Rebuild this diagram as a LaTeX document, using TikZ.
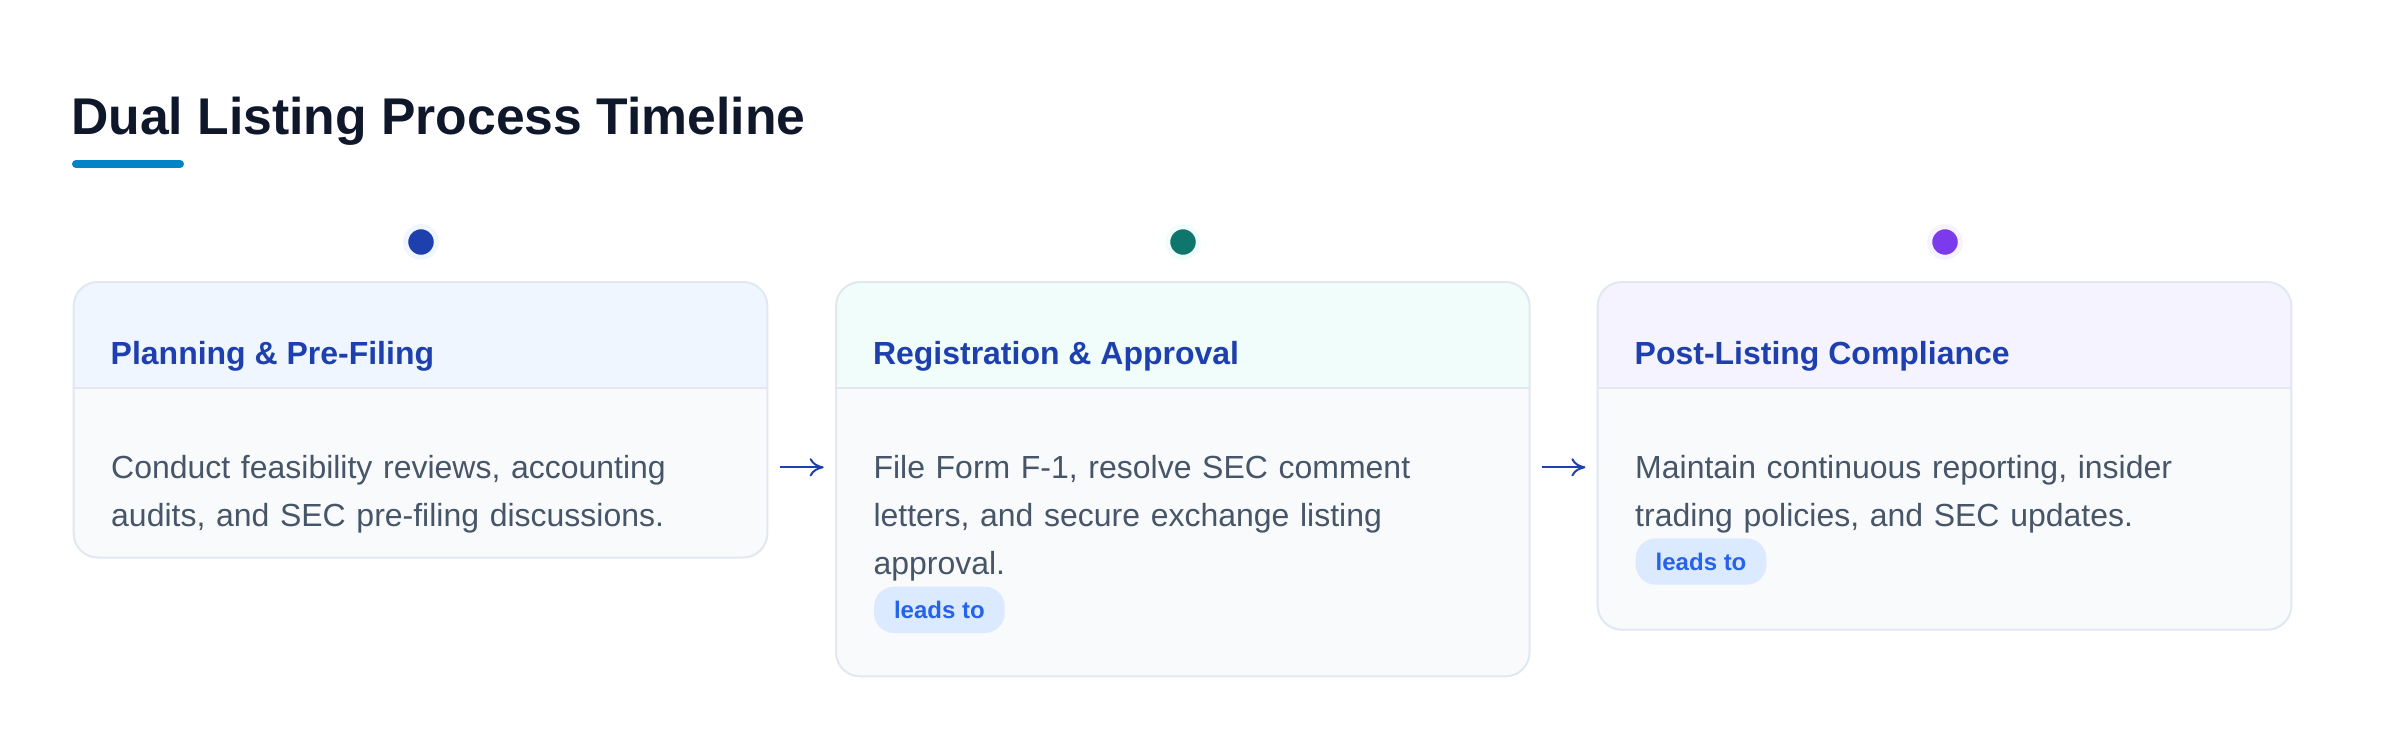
\documentclass[tikz,border=0pt]{standalone}
\usepackage{fontspec}
\setmainfont{Liberation Sans}
\usetikzlibrary{arrows.meta}
\definecolor{titleink}{HTML}{0F172A}
\definecolor{accent}{HTML}{0284C7}
\definecolor{cardedge}{HTML}{E2E8F0}
\definecolor{bodyfill}{HTML}{F8FAFC}
\definecolor{headblue}{HTML}{1E40AF}
\definecolor{slatetext}{HTML}{475569}
\definecolor{fillblue}{HTML}{EFF6FF}
\definecolor{fillteal}{HTML}{F0FDFA}
\definecolor{fillviolet}{HTML}{F5F3FF}
\definecolor{dotblue}{HTML}{1E40AF}
\definecolor{dotteal}{HTML}{0F766E}
\definecolor{dotviolet}{HTML}{7C3AED}
\definecolor{tagfill}{HTML}{DBEAFE}
\definecolor{tagblue}{HTML}{2563EB}
\tikzset{>={To[length=4pt,width=5.2pt]}, inner sep=0pt}
\tikzset{card/.style={draw=cardedge, line width=0.2mm, fill=bodyfill, rounded corners=2.4mm, minimum width=69.36mm, outer sep=0pt, anchor=north west,
  path picture={\fill[#1, sharp corners] (path picture bounding box.north west) rectangle ([yshift=-10.63mm]path picture bounding box.north east);
    \draw[cardedge, line width=0.2mm, sharp corners] ([yshift=-10.63mm]path picture bounding box.north west) -- ([yshift=-10.63mm]path picture bounding box.north east);}}}
\tikzstyle{headtext} = [anchor=base west, text=headblue, font=\fontsize{9.1}{11}\selectfont\bfseries]
\tikzstyle{bodytext} = [anchor=base west, text=slatetext, text width=62mm, align=left, font=\fontsize{9.1}{13.66}\selectfont]
\tikzstyle{tag} = [anchor=north west, fill=tagfill, text=tagblue, rounded corners=2mm, minimum width=13.07mm, minimum height=4.63mm, font=\fontsize{6.83}{8}\selectfont\bfseries]
\tikzstyle{dot} = [circle, minimum size=3.06mm, line width=0.5mm]
\tikzstyle{flow} = [->, draw=headblue, line width=0.2mm, shorten <=1.27mm, shorten >=1.23mm]

\begin{document}
\begin{tikzpicture}[x=0.1mm, y=-0.1mm]
	\fill[white] (0,0) rectangle (2400,752);
	\useasboundingbox (0,0) rectangle (2400,752);

	\node [anchor=base west, text=titleink, font=\fontsize{14.7}{17}\selectfont\bfseries] (title) at (70.5,134) {Dual Listing Process Timeline};
	\draw [accent, line width=0.8mm, line cap=round] (76,164) -- (180,164);

	\node [dot, fill=dotblue, draw=fillblue] (dot1) at (421,242) {};
	\node [dot, fill=dotteal, draw=fillteal] (dot2) at (1183,242) {};
	\node [dot, fill=dotviolet, draw=fillviolet] (dot3) at (1945,242) {};

	\node [card=fillblue, minimum height=27.55mm] (card1) at (73.7,282) {};
	\node [card=fillteal, minimum height=39.43mm] (card2) at (836,282) {};
	\node [card=fillviolet, minimum height=34.77mm] (card3) at (1597.7,282) {};

	\node [headtext] (head1) at (110,364.3) {Planning \& Pre-Filing};
	\node [headtext] (head2) at (872.3,364.3) {Registration \& Approval};
	\node [headtext] (head3) at (1634,364.3) {Post-Listing Compliance};

	\node [bodytext] (body1) at (110.5,478.7) {Conduct feasibility reviews, accounting\\audits, and SEC pre-filing discussions.};
	\node [bodytext] (body2) at (872.8,478.7) {File Form F-1, resolve SEC comment\\letters, and secure exchange listing\\approval.};
	\node [bodytext] (body3) at (1634.5,478.7) {Maintain continuous reporting, insider\\trading policies, and SEC updates.};

	\node [tag] (tag2) at (873.3,586) {leads to};
	\node [tag] (tag3) at (1635,537.7) {leads to};

	\coordinate (flowline) at (0,467.3);
	\draw [flow] (card1.east |- flowline) -- (card2.west |- flowline);
	\draw [flow] (card2.east |- flowline) -- (card3.west |- flowline);
\end{tikzpicture}
\end{document}
